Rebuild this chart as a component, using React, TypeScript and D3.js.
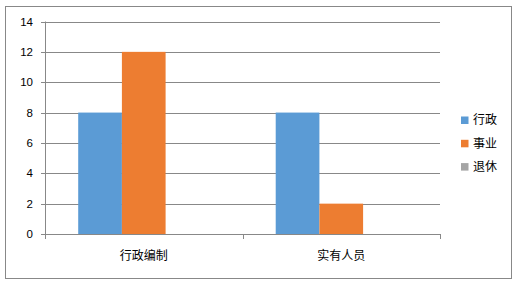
import React from "react";
import * as d3 from "d3";

const categories = ["行政编制", "实有人员"];
const seriesNames = ["行政", "事业", "退休"];
const seriesValues = [
  [8, 8],
  [12, 2],
  [0, 0],
];
const yTicks = [0, 2, 4, 6, 8, 10, 12, 14];
const colors = ["#5B9BD5", "#ED7D31", "#A5A5A5"];

export default function App() {
  const W = 516, H = 286;
  const left = 45, right = 440, top = 21.5, bottom = 234;
  const x0 = d3.scaleBand<string>().domain(categories).range([left, right]).paddingInner(0).paddingOuter(0);
  const bw = x0.bandwidth();
  const inner = d3.scaleBand<string>().domain(seriesNames).range([0, bw]).paddingInner(0).paddingOuter(0.76);
  const y = d3.scaleLinear().domain([0, 14]).range([bottom, top]);
  const font = "'Liberation Sans', Arial, sans-serif";
  const cjk = "'Noto Sans CJK SC', sans-serif";
  return (
    <svg width={W} height={H} style={{ position: "absolute", left: 0, top: 0 }}>
      <rect x={0} y={0} width={W} height={H} fill="#fff" />
      <rect x={5.5} y={6.5} width={506} height={272} fill="#fff" stroke="#888" strokeWidth={1} />
      {yTicks.map((t) => (
        <g key={t}>
          <line x1={left - 4} x2={right} y1={Math.round(y(t)) + 0.5} y2={Math.round(y(t)) + 0.5} stroke="#888" />
          <text x={33} y={y(t)} dy="0.35em" textAnchor="end" fontSize={11.5} fontFamily={font} fill="#000">{t}</text>
        </g>
      ))}
      <line x1={left + 0.5} x2={left + 0.5} y1={top} y2={bottom + 5} stroke="#888" />
      {[...categories.map((c) => x0(c)!), right].map((xx, i) => (
        <line key={i} x1={Math.round(xx) + 0.5} x2={Math.round(xx) + 0.5} y1={bottom} y2={bottom + 5} stroke="#888" />
      ))}
      {categories.map((c, ci) => (
        <g key={c}>
          {seriesNames.map((s, si) => {
            const v = seriesValues[si][ci];
            return (
              <rect key={s} x={x0(c)! + inner(s)!} y={y(v)} width={inner.bandwidth()} height={bottom - y(v)} fill={colors[si]} />
            );
          })}
          <text x={x0(c)! + bw / 2} y={256} dy="0.35em" textAnchor="middle" fontSize={12} fontFamily={cjk} fill="#000">{c}</text>
        </g>
      ))}
      {seriesNames.map((s, i) => (
        <g key={s} transform={`translate(461, ${120 + i * 23.3})`}>
          <rect x={0} y={-3.5} width={7.5} height={7.5} fill={colors[i]} />
          <text x={12} y={0} dy="0.35em" fontSize={12} fontFamily={cjk} fill="#000">{s}</text>
        </g>
      ))}
    </svg>
  );
}
